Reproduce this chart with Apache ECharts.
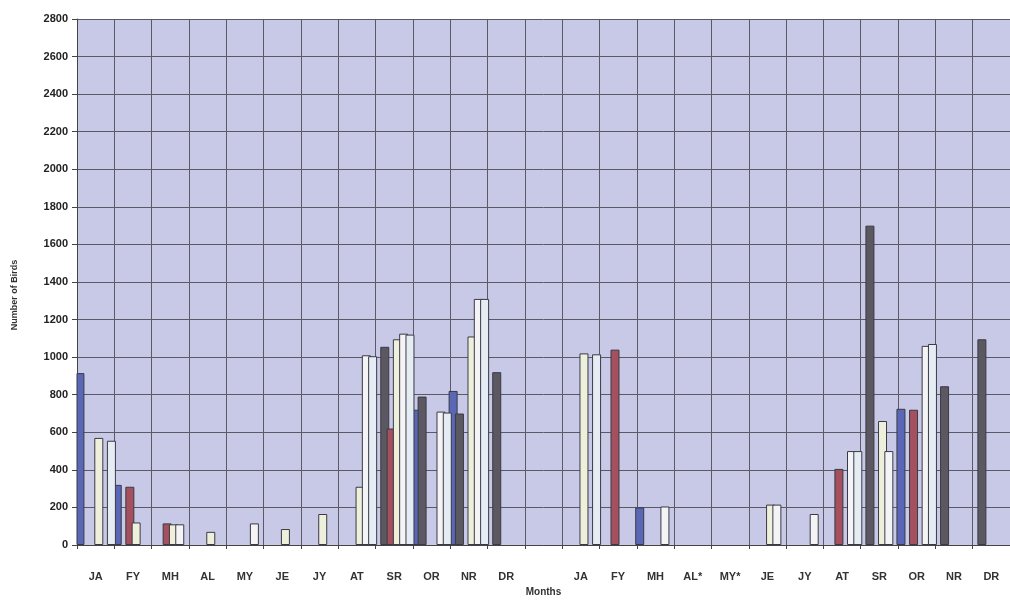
<!DOCTYPE html>
<html>
<head>
<meta charset="utf-8">
<script src="https://cdn.jsdelivr.net/npm/echarts@6/dist/echarts.min.js"></script>
<style>
  html, body { margin: 0; padding: 0; background: #fff; }
  #chart { width: 1010px; height: 602px; }
</style>
</head>
<body>
<div id="chart"></div>
<script>
// month labels, two years side by side with an empty gap between
const months = ['JA', 'FY', 'MH', 'AL', 'MY', 'JE', 'JY', 'AT', 'SR', 'OR', 'NR', 'DR', '',
  'JA', 'FY', 'MH', 'AL*', 'MY*', 'JE', 'JY', 'AT', 'SR', 'OR', 'NR', 'DR'];
const yTicks = { min: 0, max: 2800, step: 200 };

// bird counts, one array per bar colour
const blueBars  = [915, 320, 0, 0, 0, 0, 0, 0, 0, 720, 820, 0, 0, 0, 0, 200, 0, 0, 0, 0, 0, 0, 725, 0, 0];
const darkBars  = [0, 0, 0, 0, 0, 0, 0, 0, 1055, 790, 700, 920, 0, 0, 0, 0, 0, 0, 0, 0, 0, 1700, 0, 845, 1095];
const redBars   = [0, 310, 115, 0, 0, 0, 0, 0, 620, 0, 0, 0, 0, 0, 1040, 0, 0, 0, 0, 0, 405, 0, 720, 0, 0];
const creamBars = [570, 120, 110, 70, 0, 85, 165, 310, 1095, 0, 1110, 0, 0, 1020, 0, 0, 0, 0, 215, 0, 0, 660, 0, 0, 0];
const whiteBars = [0, 0, 110, 0, 115, 0, 0, 1010, 1125, 710, 1310, 0, 0, 0, 0, 205, 0, 0, 215, 165, 500, 500, 1060, 0, 0];
const paleBars  = [555, 0, 0, 0, 0, 0, 0, 1005, 1120, 705, 1310, 0, 0, 1015, 0, 0, 0, 0, 0, 0, 500, 0, 1070, 0, 0];

const chart = echarts.init(document.getElementById('chart'));

function barSeries(name, data, color) {
  return {
    name: name,
    type: 'bar',
    // empty months draw nothing
    data: data.map(v => (v === 0 ? null : v)),
    barWidth: 9,
    barGap: '-30%',
    itemStyle: {
      color: color,
      borderColor: '#3a3a44',
      borderWidth: 1
    }
  };
}

const option = {
  animation: false,
  backgroundColor: '#ffffff',
  grid: {
    left: 77,
    right: 0,
    top: 19,
    bottom: 57,
    show: true,
    backgroundColor: '#c7c9e6',
    borderWidth: 0
  },
  xAxis: {
    type: 'category',
    data: months,
    name: 'Months',
    nameLocation: 'middle',
    nameGap: 40,
    nameTextStyle: {
      fontFamily: 'Liberation Sans',
      fontWeight: 'bold',
      fontSize: 10,
      color: '#333'
    },
    axisLine: { lineStyle: { color: '#444', width: 1 } },
    axisTick: { show: true, length: 4, lineStyle: { color: '#444' } },
    axisLabel: {
      margin: 26,
      fontFamily: 'Liberation Sans',
      fontWeight: 'bold',
      fontSize: 11,
      color: '#333'
    },
    splitLine: { show: true, lineStyle: { color: '#5a5a66', width: 1 } }
  },
  yAxis: {
    type: 'value',
    min: yTicks.min,
    max: yTicks.max,
    interval: yTicks.step,
    name: 'Number of Birds',
    nameLocation: 'middle',
    nameGap: 58,
    nameTextStyle: {
      fontFamily: 'Liberation Sans',
      fontWeight: 'bold',
      fontSize: 9,
      color: '#333',
      padding: [0, 26, 0, 0]
    },
    axisLine: { show: true, lineStyle: { color: '#444', width: 1 } },
    axisTick: { show: true, length: 5, lineStyle: { color: '#444' } },
    axisLabel: {
      margin: 9,
      fontFamily: 'Liberation Sans',
      fontWeight: 'bold',
      fontSize: 11,
      color: '#222',
      formatter: v => String(v)
    },
    splitLine: { show: true, lineStyle: { color: '#5a5a66', width: 1 } }
  },
  series: [
    barSeries('blue', blueBars, '#5a67b6'),
    barSeries('dark', darkBars, '#5c5862'),
    barSeries('red', redBars, '#a4505e'),
    barSeries('cream', creamBars, '#eef0dc'),
    barSeries('white', whiteBars, '#f4f4f6'),
    barSeries('pale', paleBars, '#e6ecf4')
  ]
};

chart.setOption(option);
</script>
</body>
</html>
